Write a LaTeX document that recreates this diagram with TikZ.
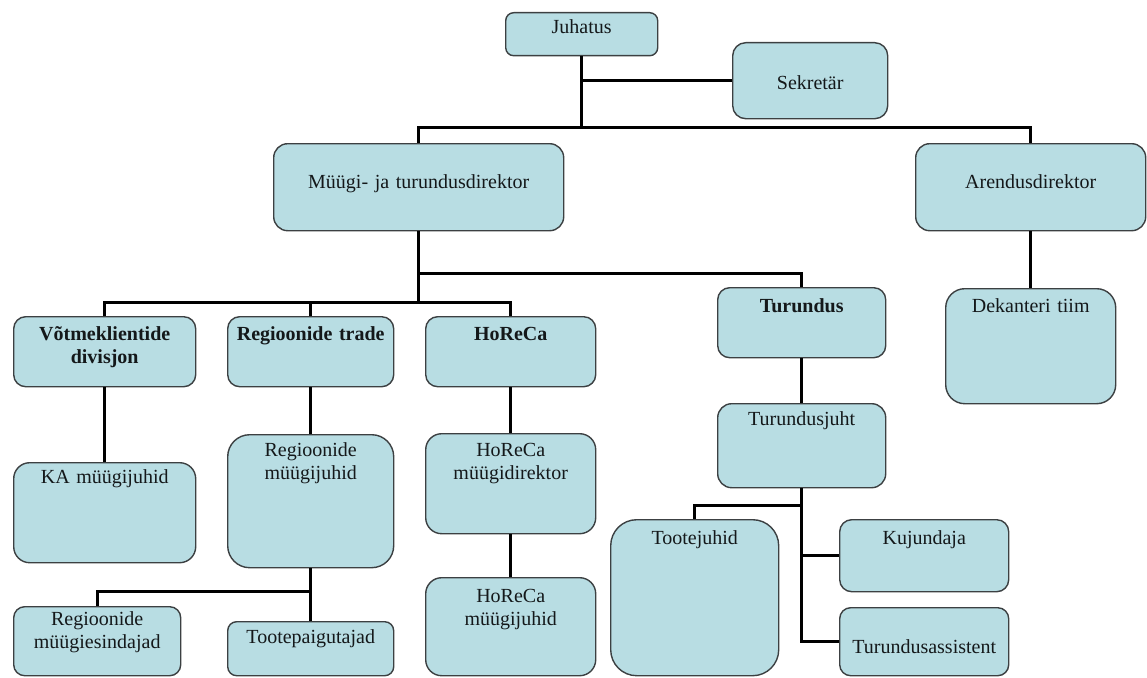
\documentclass[tikz,border=0pt]{standalone}
\usepackage{fontspec}
\setmainfont{Liberation Serif}
\usepackage{xcolor}
\usepackage{tikz}
\usetikzlibrary{calc}

\definecolor{boxfill}{RGB}{184,221,227}
\definecolor{boxline}{RGB}{60,64,66}
\definecolor{boxtext}{RGB}{20,24,26}

\begin{document}
\begin{tikzpicture}[x=1pt,y=-1pt,
        unit/.style={draw=boxline, fill=boxfill, line width=1.4pt, inner sep=0pt,
            anchor=north west, align=center, text=boxtext,
            font=\fontsize{20}{22.5}\selectfont},
        head/.style={unit, font=\fontsize{20}{22.5}\selectfont\bfseries},
        link/.style={line width=3pt, black}]
        \useasboundingbox (0,0) rectangle (1147,677);

        % Top level:
        % Every box is put at its upper left corner, text width and text height/depth
        % give the size of the box (inner sep is zero)
        \node[unit, rounded corners=8pt, text width=152pt, text height=21pt, text depth=22pt] (juhatus) at (505,12) {Juhatus};
        \node[unit, rounded corners=13pt, text width=155pt, text height=47pt, text depth=29pt] (sekretar) at (732,42) {Sekretär};
        \node[unit, rounded corners=14pt, text width=290pt, text height=45pt, text depth=42pt] (myygi) at (273,143) {Müügi- ja turundusdirektor};
        \node[unit, rounded corners=14pt, text width=230pt, text height=45pt, text depth=42pt] (arendus) at (915,143) {Arendusdirektor};

        % Divisions:
        \node[head, rounded corners=12pt, text width=182pt, text height=24pt, text depth=46pt] (votme) at (13,316) {Võtmeklientide\\divisjon};
        \node[head, rounded corners=12pt, text width=166pt, text height=24pt, text depth=46pt] (regtrade) at (227,316) {Regioonide trade};
        \node[head, rounded corners=12pt, text width=170pt, text height=24pt, text depth=46pt] (horeca) at (425,316) {HoReCa};
        \node[head, rounded corners=12pt, text width=168pt, text height=25pt, text depth=45pt] (turundus) at (717,287) {Turundus};
        \node[unit, rounded corners=19pt, text width=170pt, text height=24pt, text depth=91pt] (dekanteri) at (945,288) {Dekanteri tiim};

        % Below the divisions:
        \node[unit, rounded corners=16pt, text width=182pt, text height=21pt, text depth=79pt] (kajuhid) at (13,462) {KA müügijuhid};
        \node[unit, rounded corners=22pt, text width=166pt, text height=22pt, text depth=111pt] (regjuhid) at (227,434) {Regioonide\\müügijuhid};
        \node[unit, rounded corners=16pt, text width=170pt, text height=23pt, text depth=77pt] (horecadir) at (425,433) {HoReCa\\müügidirektor};
        \node[unit, rounded corners=16pt, text width=170pt, text height=25pt, text depth=73pt] (horecajuhid) at (425,577) {HoReCa\\müügijuhid};
        \node[unit, rounded corners=11pt, text width=167pt, text height=19pt, text depth=50pt] (esindajad) at (13,606) {Regioonide\\müügiesindajad};
        \node[unit, rounded corners=9pt, text width=166pt, text height=22pt, text depth=32pt] (paigutajad) at (227,621) {Tootepaigutajad};
        \node[unit, rounded corners=14pt, text width=168pt, text height=22pt, text depth=62pt] (turjuht) at (717,403) {Turundusjuht};
        \node[unit, rounded corners=26pt, text width=168pt, text height=25pt, text depth=131pt] (tootejuhid) at (610,519) {Tootejuhid};
        \node[unit, rounded corners=12pt, text width=169pt, text height=25pt, text depth=47pt] (kujundaja) at (839,519) {Kujundaja};
        \node[unit, rounded corners=11pt, text width=169pt, text height=46pt, text depth=22pt] (assistent) at (839,607) {Turundusassistent};

        % Heights of the horizontal bars:
        \coordinate (bartop) at (0,127);
        \coordinate (barleft) at (0,302);
        \coordinate (barright) at (0,273);
        \coordinate (barreg) at (0,591);
        \coordinate (bartoote) at (0,505);

        % Connectors:
        \begin{scope}[link]
            \draw (juhatus.south) -- (juhatus.south |- bartop);
            \draw (juhatus.south |- sekretar.west) -- (sekretar.west);
            \draw (myygi.north) |- (arendus.north |- bartop) -- (arendus.north);

            \draw (myygi.south) -- (myygi.south |- barleft);
            \draw (votme.north) |- (horeca.north |- barleft) -- (horeca.north);
            \draw (regtrade.north) -- (regtrade.north |- barleft);
            \draw (myygi.south |- barright) -| (turundus.north);
            \draw (arendus.south) -- (dekanteri.north);

            \draw (votme.south) -- (kajuhid.north);
            \draw (regtrade.south) -- (regjuhid.north);
            \draw (regjuhid.south) -- (paigutajad.north);
            \draw (esindajad.north) |- (regjuhid.south |- barreg);
            \draw (horeca.south) -- (horecadir.north);
            \draw (horecadir.south) -- (horecajuhid.north);

            \draw (turundus.south) -- (turjuht.north);
            \draw (turjuht.south) |- (assistent.west);
            \draw (turjuht.south |- kujundaja.west) -- (kujundaja.west);
            \draw (tootejuhid.north) |- (turjuht.south |- bartoote);
        \end{scope}
\end{tikzpicture}
\end{document}
